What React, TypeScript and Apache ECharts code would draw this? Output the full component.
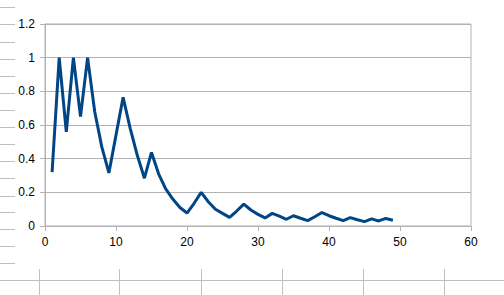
import React, { useEffect, useRef } from "react";
import * as echarts from "echarts";

const xValues = [
  1, 2, 3, 4, 5, 6, 7, 8, 9, 10, 11, 12, 13, 14, 15, 16, 17, 18, 19, 20, 21, 22, 23, 24, 25,
  26, 27, 28, 29, 30, 31, 32, 33, 34, 35, 36, 37, 38, 39, 40, 41, 42, 43, 44, 45, 46, 47, 48, 49,
];
const yValues = [
  0.32, 1.0, 0.56, 1.0, 0.65, 1.0, 0.68, 0.47, 0.315, 0.54, 0.764, 0.58, 0.42, 0.284, 0.437,
  0.31, 0.22, 0.16, 0.11, 0.077, 0.135, 0.2, 0.144, 0.1, 0.075, 0.051, 0.089, 0.13, 0.095, 0.069,
  0.048, 0.075, 0.059, 0.04, 0.061, 0.046, 0.032, 0.055, 0.08, 0.061, 0.046, 0.032, 0.05, 0.037,
  0.026, 0.042, 0.03, 0.045, 0.034,
];
const xTicks = { min: 0, max: 60, interval: 10 };
const yTicks = { min: 0, max: 1.2, interval: 0.2 };

const sheetRowYs = [7, 24, 42, 59, 76, 93, 110, 127, 144, 161, 178, 196, 212, 229, 246, 263];
const sheetColXs = [39, 119, 201, 282, 363, 444];

export default function App() {
  const ref = useRef<HTMLDivElement>(null);
  useEffect(() => {
    document.body.style.margin = "0";
    if (!ref.current) return;
    const chart = echarts.init(ref.current, null, { renderer: "svg" });
    const sheetColor = "#c0c0c0";
    const graphics: any[] = [];
    sheetRowYs.forEach((y) => {
      graphics.push({
        type: "line",
        silent: true,
        shape: { x1: 0, y1: y + 0.5, x2: 15, y2: y + 0.5 },
        style: { stroke: sheetColor, lineWidth: 1 },
      });
    });
    graphics.push({
      type: "line",
      silent: true,
      shape: { x1: 0, y1: 280.5, x2: 504, y2: 280.5 },
      style: { stroke: sheetColor, lineWidth: 1 },
    });
    sheetColXs.forEach((x) => {
      graphics.push({
        type: "line",
        silent: true,
        shape: { x1: x + 0.5, y1: 269, x2: x + 0.5, y2: 295 },
        style: { stroke: sheetColor, lineWidth: 1 },
      });
    });
    const axisColor = "#b3b3b3";
    const labelStyle = { color: "#000", fontFamily: "Liberation Sans", fontSize: 12 };
    chart.setOption({
      animation: false,
      backgroundColor: "#fff",
      graphic: graphics,
      grid: {
        left: 45,
        right: 33,
        top: 24,
        bottom: 69,
        show: true,
        borderColor: axisColor,
        borderWidth: 1,
      },
      xAxis: {
        type: "value",
        min: xTicks.min,
        max: xTicks.max,
        interval: xTicks.interval,
        axisLine: { show: true, lineStyle: { color: axisColor } },
        axisTick: { show: true, length: 5, lineStyle: { color: axisColor } },
        splitLine: { show: false },
        axisLabel: { ...labelStyle, margin: 10 },
      },
      yAxis: {
        type: "value",
        min: yTicks.min,
        max: yTicks.max,
        interval: yTicks.interval,
        axisLine: { show: true, lineStyle: { color: axisColor } },
        axisTick: { show: true, length: 5, lineStyle: { color: axisColor } },
        splitLine: { show: true, lineStyle: { color: axisColor } },
        axisLabel: { ...labelStyle, margin: 10 },
      },
      series: [
        {
          type: "line",
          data: xValues.map((x, i) => [x, yValues[i]]),
          showSymbol: false,
          symbol: "none",
          lineStyle: { color: "#004586", width: 3 },
        },
      ],
    });
    return () => chart.dispose();
  }, []);
  return <div ref={ref} style={{ width: 504, height: 295 }} />;
}
